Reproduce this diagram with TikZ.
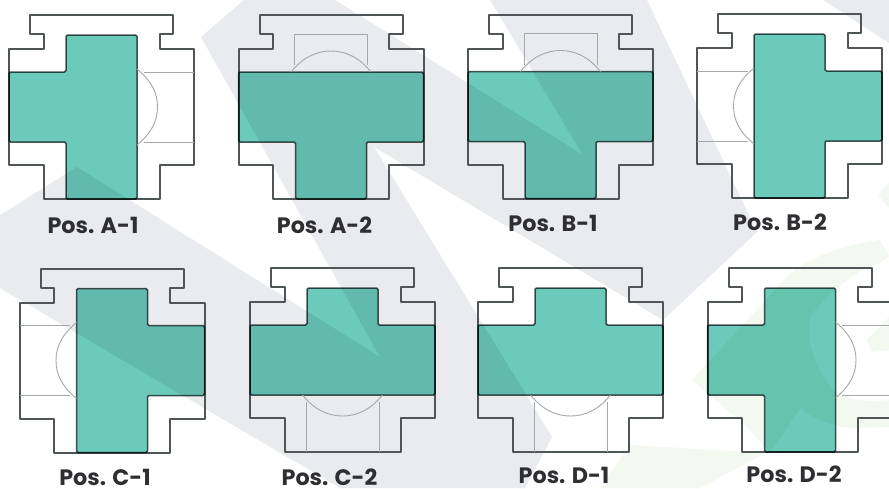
\documentclass[tikz,border=0pt]{standalone}
\usepackage{fontspec}
\setmainfont{Poppins}
\definecolor{wm}{HTML}{E9EBEE}
\definecolor{wg}{HTML}{F3F8F1}
\definecolor{teal}{HTML}{6BCAB9}
\definecolor{outl}{HTML}{505558}
\definecolor{ghost}{HTML}{A3A8A8}
\definecolor{labtxt}{HTML}{2F2F33}
\tikzset{
  x=1pt,y=-1pt,
  wmark/.style={fill=wm,draw=none},
  wgreen/.style={fill=wg,draw=none},
  bodyline/.style={draw=outl,line width=2pt,line join=round},
  passage/.style={fill=teal,draw=outl,line width=1.5pt,line join=round,rounded corners=1.5pt,blend mode=multiply},
  ghostline/.style={draw=ghost,line width=.9pt},
  poslabel/.style={font=\fontsize{22.3}{24}\selectfont\bfseries,text=labtxt,anchor=center,inner sep=0pt},
}
% outline of the valve body, centred on the current origin
\newcommand{\valvebody}{%
  \draw[bodyline] (-71.5,-92) -- (71.5,-92) -- (71.5,-73) -- (58,-73) -- (58,-58) -- (92.5,-58)
    -- (92.5,58) -- (58,58) -- (58,92) -- (-58,92) -- (-58,58) -- (-92.5,58)
    -- (-92.5,-58) -- (-58,-58) -- (-58,-73) -- (-71.5,-73) -- cycle;}
\newcommand{\valveV}[1]{% #1 = -1 arm left (ghost right), +1 arm right (ghost left)
  \draw[passage] ({-#1*35.5},-72) -- ({#1*35.5},-72) -- ({#1*35.5},-35) -- ({#1*92.5},-35)
     -- ({#1*92.5},35) -- ({#1*35.5},35) -- ({#1*35.5},92) -- ({-#1*35.5},92) -- cycle;
  \draw[ghostline] ({-#1*92.5},-35) -- ({-#1*42},-35) ({-#1*92.5},35) -- ({-#1*42},35);
  \draw[ghostline] ({-#1*35.5},-38) .. controls ({-#1*50},-26) and ({-#1*56},-14) .. ({-#1*56},0)
     .. controls ({-#1*56},14) and ({-#1*50},26) .. ({-#1*35.5},38);
}
\newcommand{\valveH}[1]{% #1 = +1 stem down (ghost up), -1 stem up (ghost down)
  \ifnum#1=1
    \draw[passage] (-92.5,-35) -- (92.5,-35) -- (92.5,35) -- (35.5,35) -- (35.5,92)
       -- (-35.5,92) -- (-35.5,35) -- (-92.5,35) -- cycle;
    \draw[ghostline] (-36.5,-42) -- (-36.5,-73) -- (36.5,-73) -- (36.5,-42);
    \draw[ghostline] (-40,-35) .. controls (-28,-50) and (-14,-56) .. (0,-56)
       .. controls (14,-56) and (28,-50) .. (40,-35);
  \else
    \draw[passage] (-35.5,-72) -- (35.5,-72) -- (35.5,-35) -- (92.5,-35) -- (92.5,35)
       -- (-92.5,35) -- (-92.5,-35) -- (-35.5,-35) -- cycle;
    \draw[ghostline] (-36.5,42) -- (-36.5,92) (36.5,42) -- (36.5,92);
    \draw[ghostline] (-40,35) .. controls (-28,50) and (-14,56) .. (0,56)
       .. controls (14,56) and (28,50) .. (40,35);
  \fi
}
\begin{document}
\begin{tikzpicture}
\useasboundingbox (0,0) rectangle (889,488);
\fill[white] (0,0) rectangle (889,488);
% watermark
\begin{scope}
\clip (0,0) rectangle (889,488);
\fill[wmark] (244,0) -- (201,37) -- (380,357) -- (77,167) -- (0,215) -- (0,288) -- (340,488)
  -- (525,488) -- (552,437) -- (374,147) -- (663,320) -- (757,232) -- (647,0) -- (490,0)
  -- (583,155) -- (335,0) -- cycle;
\fill[wmark] (823,0) -- (889,0) -- (889,43) -- cycle;
\fill[wgreen] (692,380) -- (787,277) .. controls (815,252) and (850,245) .. (880,240)
  -- (889,256) -- (880,263) .. controls (855,270) and (825,295) .. (810,317)
  .. controls (806,335) and (812,365) .. (833,390) .. controls (845,400) and (870,403) .. (889,400)
  -- (889,427) -- (853,428) .. controls (835,427) and (815,420) .. (800,408)
  -- (770,453) -- (745,425) -- cycle;
\fill[wgreen] (867,340) -- (889,317) -- (889,350) -- (872,352) -- cycle;
\fill[wgreen] (600,488) -- (630,445) -- (765,453) -- (700,488) -- cycle;
\fill[wgreen] (878,195) -- (889,183) -- (889,208) -- cycle;
\end{scope}
% valves
\begin{scope}[shift={(101.5,107)}]\valvebody\valveV{-1}\end{scope}
\begin{scope}[shift={(331,107)}]\valvebody\valveH{1}\end{scope}
\begin{scope}[shift={(560.5,106.5)}]\valvebody\valveH{1}\end{scope}
\begin{scope}[shift={(789.5,106)}]\valvebody\valveV{1}\end{scope}
\begin{scope}[shift={(112,360.5)}]\valvebody\valveV{1}\end{scope}
\begin{scope}[shift={(342.5,360)}]\valvebody\valveH{-1}\end{scope}
\begin{scope}[shift={(570.5,360)}]\valvebody\valveH{-1}\end{scope}
\begin{scope}[shift={(800,360)}]\valvebody\valveV{-1}\end{scope}
% labels
\node[poslabel] (la1) at (93,225) {Pos. A-1};
\node[poslabel] (la2) at (324.5,225) {Pos. A-2};
\node[poslabel] (lb1) at (553,223) {Pos. B-1};
\node[poslabel] (lb2) at (780,222) {Pos. B-2};
\node[poslabel] (lc1) at (105,477) {Pos. C-1};
\node[poslabel] (lc2) at (329.5,477) {Pos. C-2};
\node[poslabel] (ld1) at (564,475.5) {Pos. D-1};
\node[poslabel] (ld2) at (794,474) {Pos. D-2};
\end{tikzpicture}
\end{document}
